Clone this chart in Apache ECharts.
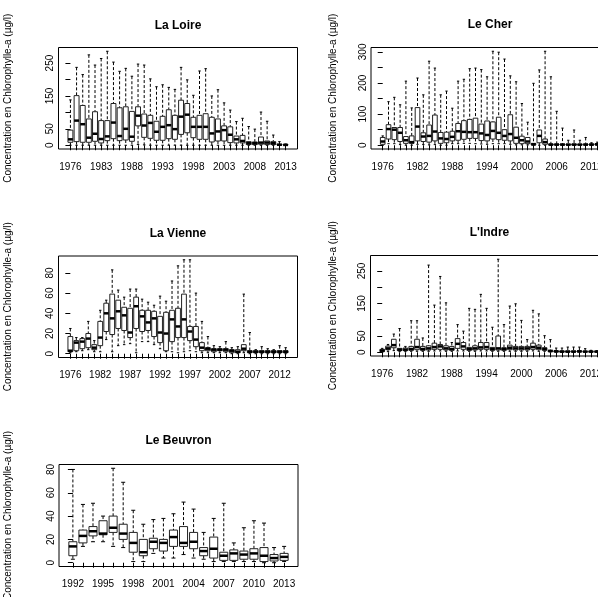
<!DOCTYPE html>
<html><head><meta charset="utf-8">
<script src="https://cdn.jsdelivr.net/npm/echarts@6/dist/echarts.min.js"></script>
<style>html,body{margin:0;padding:0;background:#fff}#c{width:598px;height:597px}</style>
</head><body><div id="c"></div>
<script>
// ---------- DATA ----------
const loireYears = [1976,1977,1978,1979,1980,1983,1984,1985,1986,1987,1988,1989,1990,1991,1992,1993,1994,1995,1996,1997,1998,1999,2000,2001,2002,2003,2004,2005,2006,2007,2008,2009,2010,2011,2012,2013];
// [lower whisker, Q1, median, Q3, upper whisker]
const loireStats = [
[0,9,18,46,138],[0,11,75,151,237],[0,9,64,121,215],[0,9,23,80,275],[0,12,35,102,244],
[0,7,19,75,264],[0,14,27,75,286],[0,20,69,127,253],[0,14,28,114,225],[0,16,50,117,234],
[0,12,26,103,210],[2,59,90,117,247],[1,24,60,95,244],[0,21,68,91,202],[0,15,41,73,178],
[0,15,56,88,184],[0,20,61,108,176],[0,18,49,91,170],[0,33,87,137,237],[0,38,93,127,199],
[0,23,56,85,152],[0,18,56,91,226],[0,18,56,96,233],[0,10,36,85,150],[0,13,42,80,169],
[0,13,46,59,129],[0,8,32,56,107],[0,7,18,28,72],[0,7,13,30,82],[0,2,6,11,57],
[0,2,6,10,49],[0,3,8,25,101],[0,2,8,13,73],[0,2,6,11,31],[0,0.5,1.5,3,11],[0,0.5,1,2,4]
];
const cherYears = [1976,1977,1978,1979,1980,1981,1982,1983,1984,1985,1986,1987,1988,1989,1990,1991,1992,1993,1994,1995,1996,1997,1998,1999,2000,2001,2002,2003,2004,2005,2006,2007,2008,2009,2010,2011,2012,2013];
const cherStats = [
[0,3,12,25,30],[5,20,52,66,140],[5,18,50,57,154],[2,12,40,57,130],[0,6,16,28,206],
[0,6,10,30,120],[3,14,60,121,216],[2,12,28,40,162],[1,10,30,65,270],[2,14,44,97,248],
[0,6,22,41,162],[0,8,20,42,174],[5,14,27,45,119],[5,16,45,70,206],[6,19,43,79,212],
[6,22,42,83,246],[5,22,42,87,248],[4,15,38,68,243],[3,14,33,78,220],[5,20,46,75,302],
[5,18,40,90,299],[5,16,30,50,277],[3,14,36,98,223],[1,6,24,58,204],[1,5,16,29,134],
[1,5,12,25,74],[0,1,3,6,199],[0,8,30,49,242],[0,3,10,20,302],[0,1,2,4,220],
[0,1,2,4,109],[0,1,2,4,55],[0,1,2,3,16],[0,1,2,4,49],[0,1,2,3,16],
[0,1,2,4,25],[0,1,2,4,8],[0,1,3,5,10]
];
const vienneYears = [1976,1977,1978,1979,1981,1982,1983,1984,1985,1986,1987,1988,1989,1990,1991,1992,1993,1994,1995,1996,1997,1998,1999,2000,2001,2002,2003,2004,2005,2006,2007,2008,2009,2010,2011,2012,2013];
const vienneStats = [
[1,2,3,17,25],[2,3,11,13,16],[3,5,12,15,16],[4,6,15,20,32],[2,4,6,9,13],
[2,8,16,32,43],[14,22,40,50,53],[2,19,35,59,83],[8,25,42,53,63],[9,23,38,46,56],
[10,16,21,45,64],[1,25,47,56,64],[12,22,37,43,54],[12,23,31,43,51],[9,17,35,42,48],
[5,11,21,37,57],[2,3,20,41,52],[2,12,34,43,72],[1,16,27,45,87],[2,16,34,59,93],
[3,13,22,27,93],[2,7,14,27,60],[1,3,6,11,32],[1,3,5,6,17],[1,2,4,5,8],
[1,3,4,5,7],[1,2,4,5,12],[0,1,3,4,6],[0,1,2,4,7],[1,3,5,9,59],
[0,1,2,3,21],[0,1,2,3,4],[0,1,2,3,7],[0,1,2,3,5],[0,1,2,3,4],[0,1,2,3,8],[0,1,2,3,6]
];
const indreYears = [1976,1977,1978,1979,1980,1981,1982,1983,1984,1985,1986,1987,1988,1989,1990,1991,1992,1993,1994,1995,1996,1997,1998,1999,2000,2001,2002,2003,2004,2005,2006,2007,2008,2009,2010,2011,2012,2013];
const indreStats = [
[0,2,5,9,12],[2,8,12,19,24],[5,14,22,40,56],[2,5,8,12,73],[2,5,8,13,18],
[3,6,10,18,97],[3,8,16,40,97],[3,6,10,18,44],[3,7,12,20,268],[4,9,16,28,145],
[4,9,18,24,233],[3,7,12,20,152],[3,6,10,18,30],[4,12,26,42,85],[4,9,18,30,65],
[3,6,10,15,135],[3,7,12,20,132],[4,9,15,30,178],[4,9,16,30,135],[3,6,10,15,77],
[3,7,12,50,286],[3,6,10,14,85],[3,8,14,22,142],[3,7,12,18,149],[3,7,12,18,98],
[3,7,12,18,39],[4,9,16,28,129],[3,8,14,22,118],[3,6,10,14,51],[1,2,4,6,39],
[0,1,3,4,13],[0,1,2,4,13],[0,1,2,4,16],[0,1,2,4,16],[0,1,3,4,16],[0,1,2,3,11],[0,1,2,3,6],[0,1,2,3,5]
];
const beuvronYears = [1992,1993,1994,1995,1996,1997,1998,1999,2000,2001,2002,2003,2004,2005,2006,2007,2008,2009,2010,2011,2012,2013];
const beuvronStats = [
[3,6,14,18,80],[14,17,23,28,50],[18,23,27,31,51],[18,24,25,36,40],[14,26,30,40,81],
[13,20,25,33,69],[1,9,17,26,45],[1,6,9,20,33],[8,12,18,21,37],[4,10,17,20,38],
[4,14,22,28,42],[7,14,17,31,52],[4,12,18,26,46],[3,6,10,13,26],[1,4,12,22,38],
[1,2,6,9,51],[1,2,8,11,17],[1,3,7,10,30],[1,3,8,12,36],[0,1,6,13,34],[0,1.5,4,7,13],[1,2,5,8,14]
];
const ticks50 = [0,50,100,150,200,250];
const ticks50b = [0,50,100,150,200,250,300];
const ticks20 = [0,20,40,60,80];
const labelsLoire = [0,50,150,250];
const labelsCher = [0,100,200,300];
const labelsVienne = [0,20,40,60,80];
const labelsIndre = [0,50,150,250];
const labelsBeuvron = [0,20,40,60,80];
const yTitle = 'Concentration en Chlorophylle-a (µg/l)';

// ---------- LAYOUT ----------
const FONT = '"Liberation Sans", Arial, Helvetica, sans-serif';
const panels = [
  {title:'La Loire', years:loireYears, stats:loireStats, yt:ticks50, yl:labelsLoire, every:5, left:58.5, top:47.5, width:239, height:101.5, titleY:26, ytX:8.5},
  {title:'Le Cher', years:cherYears, stats:cherStats, yt:ticks50b, yl:labelsCher, every:6, left:371, top:47.5, width:238, height:101.5, titleY:25, ytX:333.5},
  {title:'La Vienne', years:vienneYears, stats:vienneStats, yt:ticks20, yl:labelsVienne, every:5, left:58.5, top:256, width:239, height:101.5, titleY:233.5, ytX:8.5},
  {title:"L'Indre", years:indreYears, stats:indreStats, yt:ticks50, yl:labelsIndre, every:6, left:370.5, top:255.5, width:238, height:100.5, titleY:233, ytX:333.5},
  {title:'Le Beuvron', years:beuvronYears, stats:beuvronStats, yt:ticks20, yl:labelsBeuvron, every:3, left:59, top:464.5, width:239, height:102, titleY:441, ytX:8.5}
];

function renderBox(params, api) {
  const x = api.value(0);
  const lo = api.coord([x, api.value(1)]);
  const q1 = api.coord([x, api.value(2)]);
  const md = api.coord([x, api.value(3)]);
  const q3 = api.coord([x, api.value(4)]);
  const hi = api.coord([x, api.value(5)]);
  const unit = api.size([1, 0])[0];
  const bw = unit * 0.8, cw = bw * 0.5, cx = md[0];
  const dash = {stroke:'#000', lineWidth:1, lineDash:[3,2]};
  const solid = {stroke:'#000', lineWidth:1};
  return {type:'group', children:[
    {type:'line', shape:{x1:cx, y1:hi[1], x2:cx, y2:q3[1]}, style:dash},
    {type:'line', shape:{x1:cx, y1:q1[1], x2:cx, y2:lo[1]}, style:dash},
    {type:'line', shape:{x1:cx-cw/2, y1:hi[1], x2:cx+cw/2, y2:hi[1]}, style:solid},
    {type:'line', shape:{x1:cx-cw/2, y1:lo[1], x2:cx+cw/2, y2:lo[1]}, style:solid},
    {type:'rect', shape:{x:cx-bw/2, y:q3[1], width:bw, height:q1[1]-q3[1]}, style:{fill:'#fff', stroke:'#222', lineWidth:1}},
    {type:'line', shape:{x1:cx-bw/2, y1:md[1], x2:cx+bw/2, y2:md[1]}, style:{stroke:'#000', lineWidth:2.5}}
  ]};
}

const option = {animation:false, backgroundColor:'#fff', grid:[], xAxis:[], yAxis:[], series:[], graphic:[]};
panels.forEach((p, k) => {
  const n = p.years.length;
  const dmax = Math.max(...p.stats.map(s => s[4]));
  const dmin = Math.min(...p.stats.map(s => s[0]));
  const ext = 0.04 * (dmax - dmin);
  const idx = p.years.map((_, i) => i);
  option.grid.push({left:p.left, top:p.top, width:p.width, height:p.height, show:true, borderColor:'#000', borderWidth:1,
    backgroundColor:'transparent', containLabel:false, outerBoundsMode:'none'});
  option.xAxis.push({gridIndex:k, type:'value', min:-0.5 - 0.04*n, max:n - 0.5 + 0.04*n,
    axisLine:{show:false}, splitLine:{show:false},
    axisTick:{show:true, length:5, customValues:idx, lineStyle:{color:'#000', width:1}},
    axisLabel:{customValues:idx.filter(i => i % p.every === 0), formatter:v => String(p.years[Math.round(v)]),
      margin:13, fontSize:10, color:'#000', fontFamily:FONT}});
  option.yAxis.push({gridIndex:k, type:'value', min:dmin - ext, max:dmax + ext,
    axisLine:{show:false}, splitLine:{show:false},
    axisTick:{show:true, length:5, customValues:p.yt, lineStyle:{color:'#000', width:1}},
    axisLabel:{customValues:p.yl, rotate:90, margin:3, fontSize:10, color:'#000', fontFamily:FONT}});
  option.series.push({type:'custom', xAxisIndex:k, yAxisIndex:k, renderItem:renderBox, clip:false,
    encode:{x:0, y:[1,2,3,4,5]}, data:p.stats.map((s, i) => [i, ...s])});
  option.graphic.push({type:'text', x:p.left + p.width/2, y:p.titleY,
    style:{text:p.title, font:'bold 12px ' + FONT, fill:'#000', textAlign:'center', textVerticalAlign:'middle'}});
  option.graphic.push({type:'text', x:p.ytX, y:p.top + p.height/2, rotation:Math.PI/2,
    style:{text:yTitle, font:'10px ' + FONT, fill:'#000', textAlign:'center', textVerticalAlign:'middle'}});
});

const chart = echarts.init(document.getElementById('c'), null, {renderer:'canvas', width:598, height:597});
chart.setOption(option);
</script>
</body></html>
